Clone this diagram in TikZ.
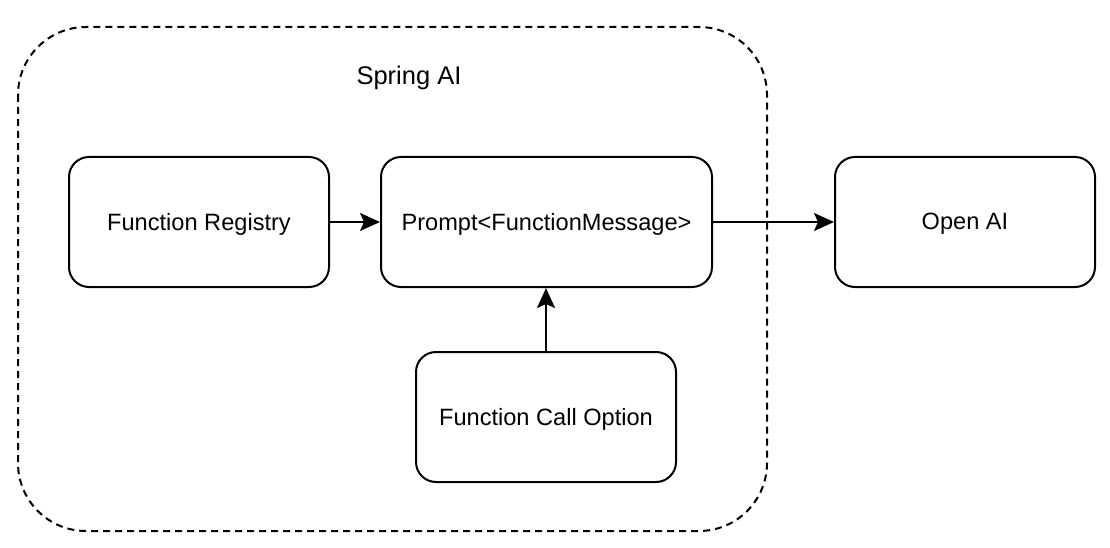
\documentclass[tikz,border=0pt]{standalone}
\usepackage{fontspec}
\setmainfont{Liberation Sans}
\usetikzlibrary{arrows.meta}
\begin{document}
\begin{tikzpicture}[x=1pt,y=-1pt,
  box/.style={draw=black, line width=2pt, rounded corners=20pt, minimum width=260pt, minimum height=130pt, inner sep=0pt, font=\fontsize{23.6}{28}\selectfont, anchor=north west, text depth=1pt},
  conn/.style={draw=black, line width=2pt, -{Stealth[length=20pt,width=18pt,inset=4pt]}},
  container/.style={draw=black, line width=2pt, dash pattern=on 7pt off 5pt, rounded corners=68pt}]
\useasboundingbox (0,0) rectangle (1110,548);
\draw[container] (18,27) rectangle (767,531);
\node[font=\fontsize{25.5}{30}\selectfont] (title) at (409,78) {Spring AI};
\node[box] (reg) at (68,156) {Function Registry};
\node[box, minimum width=331pt] (prompt) at (380,156) {Prompt<FunctionMessage>};
\node[box] (openai) at (834,156) {Open AI};
\node[box] (opt) at (415,351) {Function Call Option};
\draw[conn] (reg) -- (prompt);
\draw[conn] (prompt) -- (openai);
\draw[conn] (opt.north) -- (opt.north |- prompt.south);
\end{tikzpicture}
\end{document}
